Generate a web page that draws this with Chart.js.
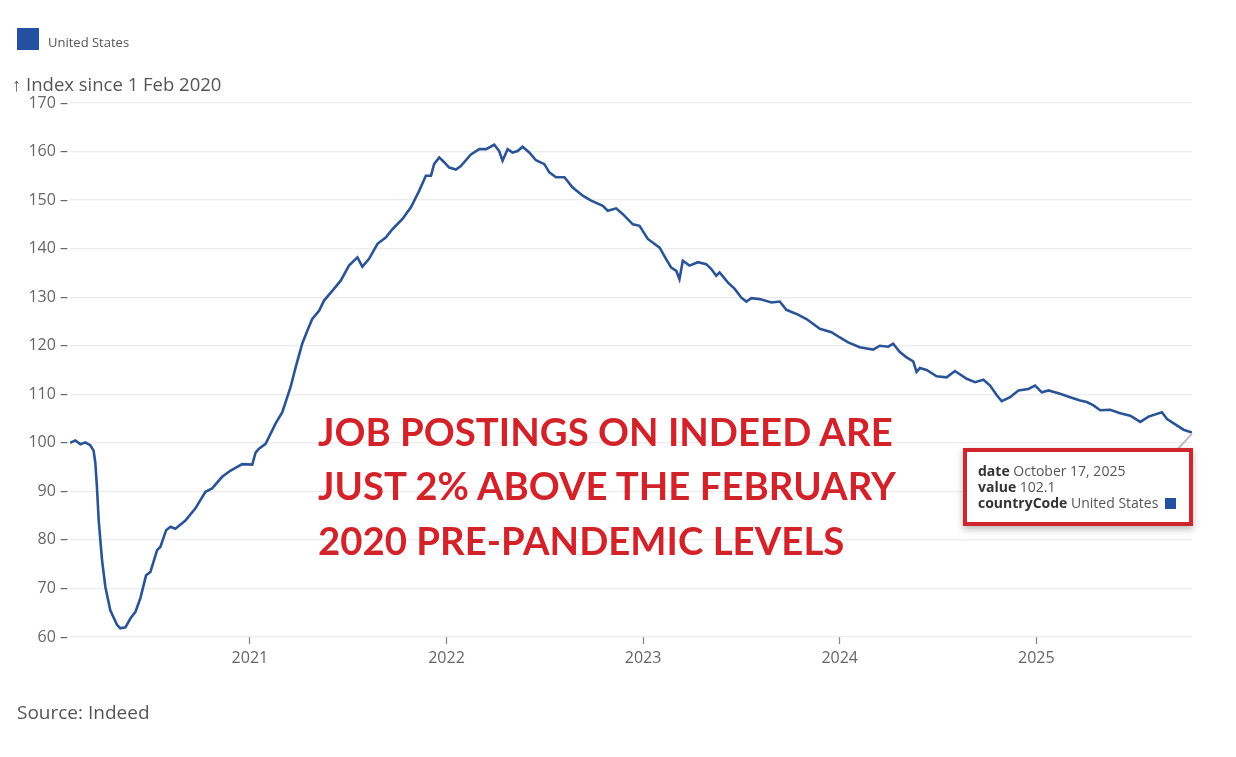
<!DOCTYPE html>
<html><head><meta charset="utf-8">
<script src="https://cdn.jsdelivr.net/npm/chart.js@4.4.1/dist/chart.umd.min.js"></script>
<style>
html,body{margin:0;padding:0;background:#fff;}
#wrap{position:relative;width:1236px;height:757px;overflow:hidden;background:#fff;}
#c{position:absolute;left:0;top:0;}
.t{position:absolute;white-space:nowrap;z-index:3;}
#tip{position:absolute;left:963px;top:448px;width:222px;height:70px;border:4px solid #cf262d;background:#fff;box-shadow:0 3px 7px rgba(0,0,0,0.28);z-index:2;}
#leg{position:absolute;left:17px;top:28px;width:22px;height:22px;background:#2350a0;}
</style></head><body>
<div id="wrap"><canvas id="c" width="1236" height="757"></canvas><div id="leg"></div><div id="tip"></div></div>
<script>
const seriesName = 'United States';
// weekly dates as decimal years (Feb 2020 .. Oct 17 2025)
const weekT = [2020.085,2020.112,2020.138,2020.163,2020.188,2020.205,2020.214,2020.222,2020.231,2020.248,
2020.265,2020.290,2020.324,2020.341,2020.367,2020.392,2020.418,2020.443,2020.472,2020.494,
2020.528,2020.545,2020.574,2020.596,2020.621,2020.672,2020.723,2020.774,2020.808,2020.859,
2020.902,2020.961,
2021.012,2021.029,2021.046,2021.080,2021.131,2021.165,2021.207,2021.233,2021.266,2021.292,
2021.317,2021.352,2021.377,2021.419,2021.462,2021.504,2021.547,2021.572,2021.606,2021.649,
2021.691,2021.725,2021.776,2021.819,2021.861,2021.895,2021.921,2021.937,2021.963,2021.988,
2022.014,2022.048,2022.073,2022.124,2022.167,2022.201,2022.243,2022.268,2022.285,2022.311,
2022.336,2022.362,2022.387,2022.421,2022.455,2022.498,2022.523,2022.557,2022.600,2022.642,
2022.693,2022.736,2022.795,2022.820,2022.863,2022.897,2022.948,2022.982,
2023.024,2023.084,2023.118,2023.143,2023.169,2023.185,2023.202,2023.236,2023.279,2023.321,
2023.347,2023.372,2023.389,2023.432,2023.466,2023.500,2023.525,2023.551,2023.593,2023.653,
2023.695,2023.729,2023.788,2023.831,2023.899,2023.958,
2024.001,2024.043,2024.102,2024.170,2024.204,2024.247,2024.272,2024.306,2024.340,2024.374,
2024.391,2024.408,2024.442,2024.493,2024.544,2024.586,2024.646,2024.688,2024.731,2024.765,
2024.799,2024.824,2024.867,2024.909,2024.960,2024.994,
2025.028,2025.062,2025.121,2025.172,2025.223,2025.257,2025.291,2025.325,2025.376,2025.427,
2025.478,2025.529,2025.571,2025.639,2025.665,2025.707,2025.749,2025.792];
const indexValues = [100.0,100.5,99.7,100.1,99.5,98.4,95.8,90.9,84.0,75.8,
70.3,65.5,62.5,61.8,62.0,63.8,65.2,68.0,72.7,73.4,
77.9,78.6,82.0,82.7,82.3,84.0,86.5,89.9,90.6,93.0,
94.3,95.6,
95.5,98.0,98.8,99.8,104.0,106.3,111.5,115.6,120.4,123.1,
125.5,127.2,129.3,131.3,133.4,136.5,138.2,136.3,137.9,141.0,
142.3,144.0,146.1,148.5,151.9,155.0,155.0,157.4,158.8,157.8,
156.7,156.3,157.0,159.4,160.5,160.5,161.4,160.1,158.1,160.5,
159.8,160.1,161.0,159.8,158.2,157.4,155.7,154.7,154.7,152.6,
150.9,149.9,148.8,147.8,148.3,147.1,145.0,144.7,
142.0,140.2,137.8,136.1,135.4,133.7,137.5,136.5,137.2,136.8,
135.8,134.4,135.1,133.0,131.7,129.9,129.1,129.8,129.6,128.9,
129.1,127.4,126.4,125.5,123.5,122.8,
121.7,120.7,119.7,119.2,120.0,119.8,120.4,118.7,117.6,116.8,
114.6,115.4,115.0,113.7,113.5,114.8,113.2,112.5,113.0,111.8,
109.8,108.6,109.4,110.8,111.1,111.8,
110.4,110.8,110.1,109.4,108.7,108.4,107.7,106.7,106.8,106.1,
105.6,104.3,105.4,106.3,104.9,103.8,102.7,102.1];
const yearTicks = [2021,2022,2023,2024,2025];
const yMin = 60, yMax = 170, yStep = 10;
const xStart = 2020.085, xEnd = 2025.792;

const points = weekT.map((t,i)=>({x:t, y:indexValues[i]}));

const pointerPlugin = {
  id:'pointer',
  afterDatasetsDraw(chart){
    const meta = chart.getDatasetMeta(0);
    const last = meta.data[meta.data.length-1];
    const ctx = chart.ctx;
    ctx.save();
    ctx.strokeStyle = '#bdbdbd';
    ctx.lineWidth = 2;
    ctx.beginPath();
    ctx.moveTo(last.x, last.y+1);
    ctx.lineTo(1177, 450);
    ctx.stroke();
    ctx.restore();
  }
};

new Chart(document.getElementById('c'), {
  type:'line',
  data:{datasets:[{label:seriesName, data:points, borderColor:'#2b5496', borderWidth:2.6, pointRadius:0, tension:0, fill:false}]},
  options:{
    responsive:false, animation:false, devicePixelRatio:1,
    layout:{padding:{left:0, right:44, top:103, bottom:0}},
    plugins:{legend:{display:false}, tooltip:{enabled:false}},
    scales:{
      x:{type:'linear', min:xStart, max:xEnd,
        afterBuildTicks(s){ s.ticks = yearTicks.map(v=>({value:v})); },
        afterFit(s){ s.height = 120; },
        border:{display:false},
        grid:{drawOnChartArea:false, drawTicks:true, tickLength:7, tickColor:'#8a8a8a', tickWidth:1.3},
        ticks:{color:'#666', font:{family:'Open Sans', size:16}, padding:5, maxRotation:0, autoSkip:false,
          callback:(v)=>String(v)}
      },
      y:{min:yMin, max:yMax,
        afterFit(s){ s.width = 70; },
        border:{display:false},
        grid:{color:'#ececec', lineWidth:1.2, drawTicks:false},
        ticks:{stepSize:yStep, color:'#666', font:{family:'Open Sans', size:16}, padding:2,
          callback:(v)=>v+' \u2013'}
      }
    }
  },
  plugins:[pointerPlugin]
});

const wrap = document.getElementById('wrap');
const mctx = document.createElement('canvas').getContext('2d');
function addText(html, x, baseline, o){
  const font = `${o.weight||400} ${o.size}px ${o.family}`;
  mctx.font = font;
  const m = mctx.measureText('Hg');
  const fa = m.fontBoundingBoxAscent, fd = m.fontBoundingBoxDescent;
  const d = document.createElement('div');
  d.className = 't';
  d.style.font = font;
  d.style.lineHeight = (fa+fd)+'px';
  d.style.color = o.color;
  d.style.left = x+'px';
  d.style.top = (baseline-fa)+'px';
  d.innerHTML = html;
  wrap.appendChild(d);
  return d;
}
const OS = '"Open Sans", sans-serif';
addText('United States', 48, 47, {size:13, family:OS, color:'#555'});
addText('\u2191 Index since 1 Feb 2020', 12, 91, {size:18.5, family:OS, color:'#555'});
addText('Source: Indeed', 17, 719, {size:19, family:OS, color:'#555'});

// annotation
const annLines = ['JOB POSTINGS ON INDEED ARE','JUST 2% ABOVE THE FEBRUARY','2020 PRE-PANDEMIC LEVELS'];
const annBase = [446, 500, 555];
const LA = 'Lato, "Open Sans", sans-serif';
mctx.font = `700 39px ${LA}`;
const sx = 576 / mctx.measureText(annLines[0]).width;
annLines.forEach((s,i)=>{
  const d = addText(s, 318, annBase[i], {size:39, weight:700, family:LA, color:'#d2232b'});
  d.style.transformOrigin = 'left center';
  d.style.transform = `scaleX(${sx})`;
});

// tooltip text
const tf = {size:14, family:OS, color:'#555'};
addText('<b style="color:#333">date</b> October 17, 2025', 978, 476, tf);
addText('<b style="color:#333">value</b> 102.1', 978, 492, tf);
addText('<b style="color:#333">countryCode</b> United States <span style="display:inline-block;width:11px;height:11px;background:#2350a0;margin-left:3px;vertical-align:-1px"></span>', 978, 508, tf);
</script>
</body></html>
